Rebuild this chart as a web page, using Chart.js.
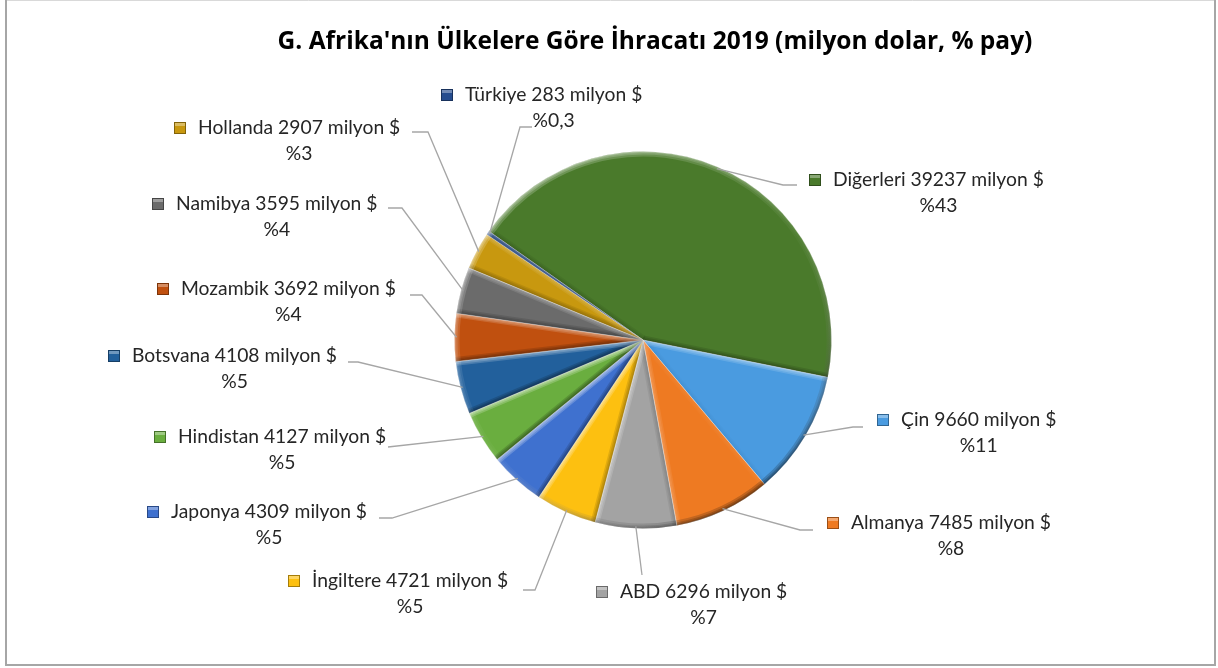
<!DOCTYPE html>
<html>
<head>
<meta charset="utf-8">
<title>G. Afrika ihracat 2019</title>
<script src="https://cdn.jsdelivr.net/npm/chart.js@4"></script>
<style>
  html, body { margin: 0; padding: 0; background: #fff; }
  #wrap { width: 1218px; height: 668px; }
</style>
</head>
<body>
<div id="wrap"><canvas id="chart" width="1218" height="668"></canvas></div>
<script>
// data
const countries = ['Diğerleri', 'Çin', 'Almanya', 'ABD', 'İngiltere', 'Japonya', 'Hindistan', 'Botsvana', 'Mozambik', 'Namibya', 'Hollanda', 'Türkiye'];
const exportsMn = [39237, 9660, 7485, 6296, 4721, 4309, 4127, 4108, 3692, 3595, 2907, 283];
const shareLabels = ['%43', '%11', '%8', '%7', '%5', '%5', '%5', '%5', '%4', '%4', '%3', '%0,3'];

const sliceColors = ['#4A7A2B', '#4A9BE0', '#EE7A22', '#A3A3A3', '#FDC010', '#3F71CF', '#6AAE3F', '#22609C', '#C0500F', '#6B6B6B', '#C8980F', '#254C8E'];

// label layout: [marker left x, first line y, leader start x, leader start y, elbow x, elbow y]
const labelPos = [
  [809, 180, 797, 185, 783, 185],
  [877, 420, 863, 427, 853, 427],
  [827, 523, 813, 530, 800, 530],
  [596, 592, 642, 575, 642, 575],
  [288, 581, 523, 590, 535, 590],
  [147, 512, 379, 518, 392, 518],
  [154, 437, 388, 447, 388, 447],
  [108, 356, 348, 362, 358, 362],
  [157, 289, 410, 295, 422, 295],
  [152, 204, 388, 208, 402, 208],
  [174, 128, 412, 132, 428, 132],
  [441, 95, 532, 127, 520, 127]
];

const FONT = 'Lato, "Open Sans", sans-serif';
const TITLE = "G. Afrika'nın Ülkelere Göre İhracatı 2019 (milyon dolar, % pay)";

function edgeBand(ctx, x1, y1, x2, y2, color, alpha) {
  ctx.strokeStyle = color;
  for (const w of [9, 6, 3]) {
    ctx.globalAlpha = alpha / 3;
    ctx.lineWidth = w;
    ctx.beginPath();
    ctx.moveTo(x1, y1);
    ctx.lineTo(x2, y2);
    ctx.stroke();
  }
  ctx.globalAlpha = 1;
}

const bevelPlugin = {
  id: 'bevel',
  afterDatasetsDraw(chart) {
    const ctx = chart.ctx;
    const meta = chart.getDatasetMeta(0);
    const L = [-0.55, -0.83];
    meta.data.forEach((arc) => {
      const { x, y, startAngle, endAngle, outerRadius: r } = arc;
      ctx.save();
      ctx.beginPath();
      ctx.moveTo(x, y);
      ctx.arc(x, y, r, startAngle, endAngle);
      ctx.closePath();
      ctx.clip();
      // radial edges
      [[startAngle, startAngle - Math.PI / 2], [endAngle, endAngle + Math.PI / 2]].forEach(([a, n]) => {
        const d = Math.cos(n) * L[0] + Math.sin(n) * L[1];
        const ex = x + Math.cos(a) * r, ey = y + Math.sin(a) * r;
        if (d > 0) edgeBand(ctx, x, y, ex, ey, '#ffffff', 0.6 * d);
        else edgeBand(ctx, x, y, ex, ey, '#000000', -0.45 * d);
      });
      // outer rim
      const g = ctx.createLinearGradient(x - r * 0.55, y - r * 0.83, x + r * 0.55, y + r * 0.83);
      g.addColorStop(0, 'rgba(255,255,255,0.4)');
      g.addColorStop(0.5, 'rgba(255,255,255,0.05)');
      g.addColorStop(1, 'rgba(0,0,0,0.4)');
      ctx.strokeStyle = g;
      [10, 6, 3].forEach((w) => {
        ctx.lineWidth = w;
        ctx.globalAlpha = 0.5;
        ctx.beginPath();
        ctx.arc(x, y, r, startAngle, endAngle);
        ctx.stroke();
      });
      ctx.restore();
    });
  }
};

const labelPlugin = {
  id: 'outerLabels',
  beforeDraw(chart) {
    const ctx = chart.ctx;
    ctx.save();
    ctx.fillStyle = '#fff';
    ctx.fillRect(0, 0, chart.width, chart.height);
    ctx.lineWidth = 1;
    ctx.strokeStyle = '#D9D9D9';
    ctx.beginPath(); ctx.moveTo(6, 0.5); ctx.lineTo(1215, 0.5); ctx.stroke();
    ctx.strokeStyle = '#A6A6A6';
    ctx.lineWidth = 2;
    ctx.beginPath(); ctx.moveTo(6, 0); ctx.lineTo(6, 665); ctx.lineTo(1215, 665); ctx.lineTo(1215, 0); ctx.stroke();
    // title, sized to the width it has in the original
    ctx.fillStyle = '#000';
    ctx.font = 'bold 24px "Open Sans", sans-serif';
    const tw = ctx.measureText(TITLE).width;
    const size = Math.min(26, 24 * 756 / tw);
    ctx.font = 'bold ' + size.toFixed(1) + 'px "Open Sans", sans-serif';
    ctx.textAlign = 'center';
    ctx.textBaseline = 'alphabetic';
    ctx.fillText(TITLE, 655, 49);
    ctx.restore();
  },
  afterDraw(chart) {
    const ctx = chart.ctx;
    const meta = chart.getDatasetMeta(0);
    ctx.save();
    meta.data.forEach((arc, i) => {
      const { x, y, startAngle, endAngle, outerRadius: r } = arc;
      const mid = (startAngle + endAngle) / 2;
      const px = x + Math.cos(mid) * (r - 2), py = y + Math.sin(mid) * (r - 2);
      const [mx, ly, sx, sy, ex, ey] = labelPos[i];
      // leader line
      ctx.strokeStyle = '#A6A6A6';
      ctx.lineWidth = 1.3;
      ctx.beginPath();
      ctx.moveTo(sx, sy);
      ctx.lineTo(ex, ey);
      ctx.lineTo(px, py);
      ctx.stroke();
      // legend key
      ctx.fillStyle = sliceColors[i];
      ctx.fillRect(mx, ly - 6, 12, 12);
      ctx.fillStyle = 'rgba(255,255,255,0.35)';
      ctx.fillRect(mx + 1, ly - 5, 10, 3);
      ctx.strokeStyle = 'rgba(0,0,0,0.35)';
      ctx.lineWidth = 1;
      ctx.strokeRect(mx + 0.5, ly - 5.5, 11, 11);
      // text
      ctx.fillStyle = '#262626';
      ctx.font = '19.3px ' + FONT;
      ctx.textBaseline = 'middle';
      ctx.textAlign = 'left';
      const line1 = countries[i] + ' ' + exportsMn[i] + ' milyon $';
      const tx = mx + 24;
      ctx.fillText(line1, tx, ly);
      const w = ctx.measureText(line1).width;
      ctx.textAlign = 'center';
      ctx.fillText(shareLabels[i], tx + w / 2, ly + 26);
    });
    ctx.restore();
  }
};

new Chart(document.getElementById('chart'), {
  type: 'pie',
  data: {
    labels: countries,
    datasets: [{
      data: exportsMn,
      backgroundColor: sliceColors,
      borderColor: 'rgba(255,255,255,0.35)',
      borderWidth: 1
    }]
  },
  options: {
    responsive: false,
    animation: false,
    rotation: -54.8,
    layout: { padding: { left: 454, right: 386, top: 151, bottom: 139 } },
    plugins: {
      legend: { display: false },
      tooltip: { enabled: false },
      title: { display: false }
    }
  },
  plugins: [labelPlugin, bevelPlugin]
});
</script>
</body>
</html>
